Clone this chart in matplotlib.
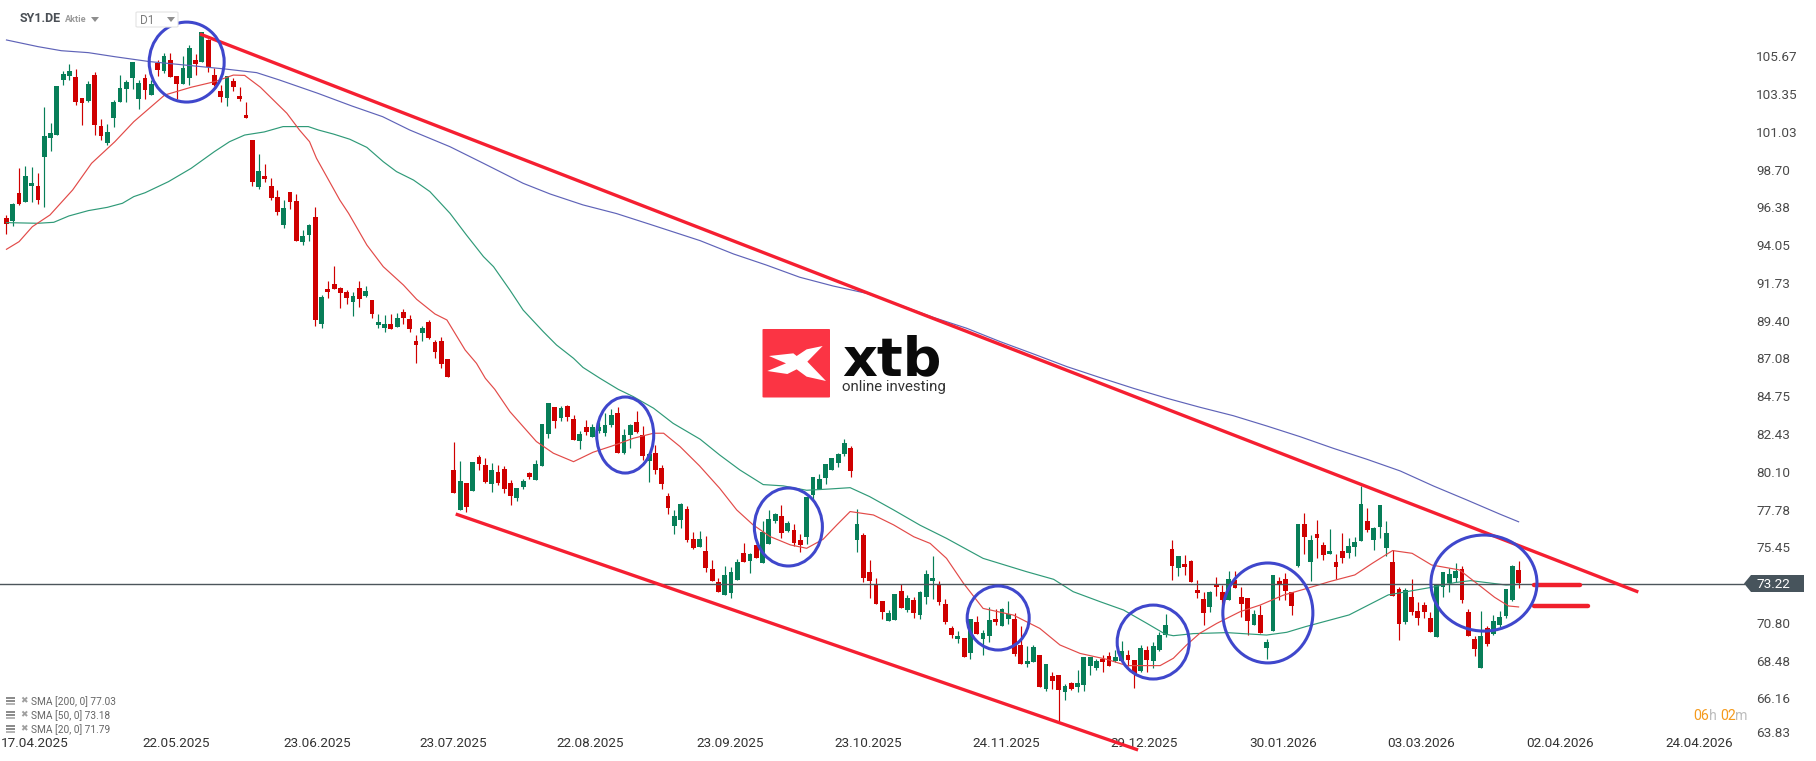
import matplotlib
matplotlib.use("Agg")
import matplotlib.pyplot as plt
from matplotlib.patches import Ellipse, Polygon, Rectangle, FancyBboxPatch
import numpy as np

plt.rcParams['font.family'] = ['Roboto', 'DejaVu Sans']

directions = ("rgrggrgggg" "grrgrrgggg" "ggrgrgrrgg" "rgrrrgrrrr" "grrrgrrggr" "grrrrgrgrg" "grgrrrgrrr"
              "rrgrgrrgrr" "rggrgggrgr" "rgrggggrgg" "rrgrrrggrr" "grrrgggrgr" "gggrgrrggg" "ggggrgrrrr"
              "ggrgrgggrr" "rgrgrggrgg" "rrggrgrrgr" "ggggrrggrr" "grgggrgrrr" "rgrrgrrrgr" "ggrrrgrgrr"
              "grrgggrggg" "rrgrrrrggg" "grrrgrggggr")

highs = [95.91,96.67,98.78,98.92,98.84,98.47,102.53,101.55,103.85,104.77,
 105.20,104.89,103.11,104.16,104.71,101.80,101.51,102.99,104.50,104.22,
 105.32,104.22,104.59,104.22,105.45,105.88,105.88,104.46,105.69,106.37,
 105.82,107.17,106.74,104.96,103.91,104.46,104.34,103.79,102.86,100.52,
 99.66,99.05,98.19,97.45,96.83,97.32,97.20,94.99,95.36,96.40,
 90.99,91.85,92.77,91.48,91.29,91.17,91.85,91.54,90.68,89.82,
 89.76,89.82,89.88,90.12,89.76,88.52,89.08,89.45,88.22,88.40,
 87.05,81.94,80.78,79.42,80.71,81.14,80.96,80.67,80.53,80.47,
 79.61,79.13,79.65,80.10,80.84,83.05,84.34,84.10,84.16,84.22,
 83.61,82.62,83.30,83.05,83.20,83.73,83.98,84.10,82.74,83.05,
 83.85,82.93,81.27,81.76,80.53,78.81,77.76,78.19,78.01,76.41,
 76.47,76.16,74.68,73.58,74.31,74.25,74.74,75.73,75.11,75.61,
 77.08,77.76,77.58,78.07,77.08,76.90,76.28,78.56,79.79,79.98,
 80.59,80.96,81.27,82.13,81.70,77.82,76.34,74.68,73.58,72.16,
 71.61,72.59,73.21,72.53,72.41,72.77,74.06,74.92,73.39,72.28,
 70.62,70.31,69.88,71.05,71.23,70.37,71.79,71.66,71.72,72.16,
 71.42,70.62,69.39,69.45,68.83,68.28,67.79,67.60,67.05,67.17,
 67.91,68.71,68.71,68.59,68.83,69.02,69.14,69.69,69.14,68.52,
 69.45,69.39,69.63,70.25,71.36,75.91,74.92,74.99,74.68,73.45,
 72.71,72.77,73.63,73.14,74.00,74.00,73.02,72.34,71.60,71.91,
 69.82,73.76,73.63,73.88,72.71,76.90,77.57,76.22,77.14,75.79,
 76.59,75.05,76.34,76.04,76.10,79.24,77.88,76.71,78.07,77.08,
 75.30,73.02,72.96,73.51,72.10,72.10,71.48,73.14,73.94,74.19,
 74.50,74.31,71.67,70.00,71.54,70.62,71.30,71.54,72.90,74.37,74.62]

body_tops = [95.72,96.59,97.26,98.31,97.88,97.69,100.77,100.96,103.85,104.59,
 104.77,104.40,103.11,103.97,104.52,101.39,101.02,102.86,103.72,104.09,
 105.32,104.03,104.34,103.97,105.26,105.69,105.45,104.46,104.96,106.19,
 105.45,107.17,106.68,104.52,103.54,104.46,104.16,103.23,102.06,100.52,
 98.62,98.31,97.69,97.02,96.34,97.32,96.77,94.62,95.29,95.79,
 90.86,91.36,91.66,91.42,91.17,90.92,91.42,91.23,90.68,89.32,
 89.20,89.20,89.57,89.94,89.51,88.16,88.96,89.32,88.09,88.16,
 87.05,80.22,79.54,79.42,80.71,81.02,80.53,80.22,80.10,80.28,
 79.42,79.11,79.54,80.04,80.59,83.05,84.34,84.10,84.04,84.16,
 83.36,82.44,82.87,82.87,82.87,82.99,83.61,83.73,82.38,82.99,
 83.18,82.38,81.21,81.27,80.34,78.62,77.39,78.13,77.82,75.98,
 75.98,75.24,74.13,73.33,73.76,73.94,74.56,75.11,75.05,75.61,
 76.41,77.21,77.51,77.39,76.96,76.53,75.91,78.56,79.79,79.67,
 80.59,80.96,81.21,81.88,81.58,76.90,76.22,73.94,73.21,72.16,
 71.42,72.59,72.78,72.34,72.22,72.71,73.82,73.57,73.20,71.97,
 70.49,70.00,69.88,71.05,70.86,70.19,70.99,71.05,71.66,71.36,
 71.05,69.45,68.46,69.32,68.83,68.28,67.54,67.60,66.92,67.11,
 67.11,68.71,68.71,68.46,68.59,68.77,68.71,69.08,68.83,68.52,
 69.26,69.14,69.39,70.06,70.68,75.36,74.92,74.43,74.62,72.83,
 72.28,72.71,73.20,72.71,73.51,73.45,72.40,72.34,71.36,71.29,
 69.63,73.76,73.39,73.51,72.71,76.90,76.90,75.91,76.28,75.60,
 75.24,74.56,75.24,75.54,75.79,78.13,77.08,76.65,78.07,76.34,
 74.56,72.90,72.84,72.40,71.54,71.91,71.11,73.14,73.94,73.82,
 74.00,74.13,71.48,69.82,70.00,70.50,70.93,71.17,72.90,74.31,74.07]

body_bottoms = [95.38,95.54,96.59,96.71,97.69,96.83,99.50,100.65,100.83,104.22,
 104.46,102.86,102.80,102.92,101.45,100.77,100.34,101.88,102.86,103.66,
 104.34,103.05,103.60,103.29,104.83,104.77,104.40,103.97,103.97,104.34,
 105.20,105.32,105.02,103.91,103.17,103.11,103.79,103.05,101.88,97.94,
 97.63,98.12,96.96,96.09,95.29,96.71,94.31,94.25,94.68,89.45,
 89.20,91.17,91.36,91.11,90.80,90.56,90.74,90.92,89.82,89.14,
 88.96,88.89,89.02,89.57,88.89,87.91,88.65,88.32,87.48,86.74,
 85.94,78.81,77.76,77.94,78.93,80.59,79.48,79.36,79.42,79.05,
 78.62,78.50,79.18,79.79,79.61,80.47,82.44,83.24,83.42,83.48,
 82.07,82.01,82.56,82.25,82.62,82.50,82.99,81.27,81.27,82.38,
 82.56,81.08,80.78,80.22,79.36,77.88,76.78,77.14,75.91,75.42,
 75.48,74.19,73.39,72.71,72.53,72.65,73.45,74.56,74.62,74.81,
 74.50,75.67,77.08,76.34,76.47,75.73,75.61,76.10,78.68,79.05,
 79.73,80.22,80.65,81.21,80.16,75.91,73.58,73.39,71.98,71.48,
 70.93,70.99,71.73,71.61,71.42,71.29,72.40,73.39,72.09,70.86,
 70.06,69.82,68.71,68.96,70.12,69.82,70.00,70.86,70.62,71.05,
 68.89,68.28,68.28,68.40,66.86,66.74,67.23,66.68,66.56,66.74,
 66.86,66.99,68.16,68.03,68.40,68.16,68.46,68.46,68.52,67.66,
 67.85,68.52,68.46,69.14,70.06,74.31,74.19,74.25,73.32,72.65,
 71.42,71.79,73.02,72.22,72.22,72.96,71.97,70.92,70.68,70.19,
 69.26,70.31,73.14,72.77,71.85,74.31,76.10,74.56,76.04,74.99,
 75.05,74.25,74.80,75.11,75.48,75.85,76.53,75.91,76.71,75.42,
 72.47,70.74,70.87,71.48,71.11,71.48,70.25,69.94,73.02,73.27,
 73.57,72.22,70.00,69.20,68.04,69.51,70.13,70.68,71.24,72.22,73.27]

lows = [94.74,95.23,96.52,96.71,96.71,96.59,96.42,99.85,100.83,103.91,
 104.22,102.68,101.45,102.86,100.83,100.52,100.22,101.30,102.86,102.86,
 103.66,102.43,103.05,103.29,104.46,104.65,104.40,103.03,103.97,103.91,
 104.52,105.32,104.71,103.85,102.86,102.62,103.54,102.92,101.88,97.69,
 97.51,97.94,96.83,95.91,95.11,96.28,94.31,94.06,94.31,89.08,
 88.96,90.80,91.36,90.19,90.43,89.69,90.25,90.86,89.57,88.96,
 88.71,88.89,89.02,89.20,88.71,86.80,88.16,88.26,87.11,86.49,
 85.94,78.81,77.76,77.64,78.93,80.22,79.42,78.87,79.30,78.81,
 78.07,78.31,79.05,79.67,79.61,80.47,82.19,82.81,83.24,83.24,
 82.07,81.51,82.38,82.25,82.48,82.31,82.87,81.27,81.21,81.58,
 82.50,80.84,79.48,79.98,79.05,77.51,76.28,76.65,75.79,75.36,
 75.48,73.94,73.39,72.71,72.53,72.34,73.45,74.56,73.88,74.81,
 74.50,75.67,76.96,76.04,76.41,75.54,75.18,75.67,78.38,79.05,
 79.36,80.22,80.41,81.08,79.79,75.18,73.33,72.34,71.98,71.05,
 70.93,70.99,71.73,71.48,71.11,71.05,71.97,72.28,71.91,70.74,
 69.88,69.57,68.71,68.59,70.12,68.83,69.63,70.68,70.62,70.74,
 68.77,68.28,68.09,68.40,66.86,66.62,66.74,64.77,66.06,66.68,
 66.56,66.62,67.60,67.91,67.79,68.16,68.40,68.46,68.16,66.80,
 67.79,67.79,68.03,69.08,69.94,73.45,73.69,73.76,73.32,72.34,
 70.68,71.48,72.46,71.91,72.22,72.96,71.17,70.06,70.68,70.19,
 68.59,70.31,72.22,72.22,71.29,74.25,75.05,73.39,74.80,74.68,
 75.05,73.51,74.50,74.80,74.93,75.85,76.40,75.30,76.04,74.93,
 72.47,69.76,70.74,71.30,70.68,71.11,70.25,69.94,72.40,72.71,
 73.33,72.04,70.00,68.77,68.04,69.39,70.07,70.56,71.11,72.16,72.96]

sma200_x = [0,5,8.7,13,17.2,22.7,29.3,34.8,39.7,43.3,49.4,54.8,59.7,64,70.4,75.7,82,86.3,91.5,96.8,102.1,
            110.1,115.4,120.6,125.9,131.2,136.5,141.8,147.1,152.4,157.7,163,168.3,173.6,178.9,184.2,189.4,194.7,200,205.3,210.6,215.9,221.2,226.5,231.8,237.1,240]
sma200_y = [106.68,106.27,106.02,105.90,105.65,105.35,105.10,104.89,104.67,104.22,103.40,102.62,101.96,101.14,100.11,99.09,97.86,97.20,96.53,96.00,95.34,
            94.33,93.51,92.83,92.08,91.54,91.09,90.37,89.61,88.94,88.12,87.36,86.58,85.90,85.24,84.63,84.08,83.56,82.93,82.27,81.55,80.88,80.16,79.23,78.37,77.49,77.03]

sma50_x = [0,5,7.5,9.9,13,16,18.4,20.2,22,25.7,29.3,33,35.4,37.8,40.9,43.9,47.9,49.5,51.9,54.5,57.2,59.8,61.9,64.6,67.2,70.4,73,75.7,77.3,79.9,82,85.2,87.3,90,91.5,94.2,97.1,
           99.5,102.7,105.8,110.1,113.2,116.4,120.1,123.3,127,130.7,133.9,137,140.8,145,149.2,155,161.9,166.2,169.3,173.6,177.3,181,183.9,185.2,188.4,193.7,200,203.2,206.2,213.1,219.3,226.2,229.9,232.4,234.9,238,240]
sma50_y = [95.44,95.40,95.46,95.85,96.18,96.38,96.63,97.04,97.28,97.96,98.78,99.81,100.42,100.83,101.02,101.35,101.35,101.14,100.89,100.57,100.07,99.19,98.58,98.06,97.35,96.01,94.68,93.35,92.73,91.29,90.06,88.73,87.91,87.09,86.53,85.86,85.18,
           84.73,84.02,83.09,82.11,81.14,80.22,79.32,79.24,78.97,79.05,79.13,78.58,77.76,76.82,76.01,74.78,73.96,73.49,72.73,72.11,71.60,70.78,70.12,70.02,70.15,70.21,70.06,70.23,70.58,71.30,72.53,73.00,73.29,73.41,73.29,73.14,73.18]

sma20_x = [0,2,4.1,6.9,10.5,13.5,17.2,20.2,25.1,29.3,33,36,37.8,40.3,44.5,46.5,48.1,49.2,52.9,54.3,57.2,59.8,63,65.1,68,69.9,72.8,74.6,76,77.5,79.9,84.1,86.8,90,93.1,96.3,99.5,102.7,104.3,106.9,110,113.2,115.9,118.5,121.2,124.4,127,129.6,131.8,133.9,137.6,140.8,144,146.6,149.2,151.9,155,159.8,164,167.2,170.4,174.6,177.8,183.1,185.2,187.3,189.4,192.1,195.8,199,202.7,206.4,210,214,216.8,220,223.1,226.2,230.6,233,236.2,238.4,240]
sma20_y = [93.80,94.27,95.19,95.91,97.45,99.09,100.42,101.65,103.29,103.77,104.11,104.52,104.50,103.77,102.17,101.14,100.42,99.40,96.83,96.01,94.06,92.73,91.60,90.72,89.82,89.45,87.60,86.78,85.86,85.18,83.81,81.97,81.25,80.73,81.31,81.72,82.17,82.48,82.48,81.66,80.47,79.09,77.76,76.84,76.12,75.61,75.40,75.95,76.84,77.66,77.45,76.84,76.11,75.70,74.78,73.24,71.70,71.29,70.47,69.45,68.93,68.57,68.18,68.18,68.63,69.45,70.17,70.78,71.50,71.91,72.52,72.93,73.35,73.76,74.48,75.26,75.09,74.37,74.07,73.35,72.38,71.85,71.79]

last_price = 73.22
resistance_x, resistance_y = [30.7, 259], [107.05, 72.71]
support_x, support_y = [71.3, 179.6], [77.51, 62.99]
level_x = [[242.5, 249.8], [242.5, 251]]
level_y = [73.12, 71.84]

circle_x = [28.6, 98.2, 124.1, 157.4, 182, 200.2, 234.5]
circle_y = [105.32, 82.37, 76.71, 71.11, 69.63, 71.42, 73.26]
circle_w = [11.9, 9.05, 10.8, 9.84, 11.43, 14.29, 16.83]
circle_h = [4.92, 4.68, 4.8, 3.94, 4.55, 6.15, 5.91]

price_ticks = [105.67,103.35,101.03,98.70,96.38,94.05,91.73,89.40,87.08,84.75,82.43,80.10,77.78,75.45,70.80,68.48,66.16,63.83]
date_labels = ["17.04.2025","22.05.2025","23.06.2025","23.07.2025","22.08.2025","23.09.2025","23.10.2025","24.11.2025","29.12.2025","30.01.2026","03.03.2026","02.04.2026","24.04.2026"]
date_ticks = [4.5,26.9,49.3,70.85,92.7,114.8,136.85,158.7,180.6,202.7,224.5,246.6,268.7]
legend_labels = ["SMA [200, 0] 77.03", "SMA [50, 0] 73.18", "SMA [20, 0] 71.79"]

W, H = 1816, 761
fig = plt.figure(figsize=(W/100, H/100), dpi=100, facecolor='white')
ax = fig.add_axes([0, 0, 1, 1])
ax.set_xlim(-1.03, 287.2)
ax.set_ylim(62.31, 109.14)
for s in ax.spines.values():
    s.set_visible(False)

def P(x, y):
    return (x / W, 1 - y / H)

# axes ticks (inside the frame, as on the platform)
ax.yaxis.tick_right()
ax.set_yticks([p if p > 64 else 64.11 for p in price_ticks])
ax.set_yticklabels([f"{p:.2f}" for p in price_ticks])
ax.tick_params(axis='y', length=0, pad=-43, labelsize=9.7, labelcolor='#4a4a4a')
ax.set_xticks(date_ticks)
ax.set_xticklabels(date_labels)
ax.tick_params(axis='x', length=0, pad=-17, labelsize=9.7, labelcolor='#333333')

# candles
x = np.arange(len(highs))
up = np.array([d == 'g' for d in directions])
hi, lo = np.array(highs), np.array(lows)
bt, bb = np.array(body_tops), np.array(body_bottoms)
RED, GREEN = '#cf0000', '#077e58'
colors = np.where(up, GREEN, RED)
ax.vlines(x, lo, hi, colors=colors, lw=0.85, zorder=3)
ax.bar(x, bt - bb, bottom=bb, width=0.76, color=colors, lw=0, zorder=3)

# SMA lines
ax.plot(sma200_x, sma200_y, color='#5f63b8', lw=0.85, zorder=4)
ax.plot(sma50_x, sma50_y, color='#2f9a78', lw=0.85, zorder=4)
ax.plot(sma20_x, sma20_y, color='#e24a48', lw=0.85, zorder=4)

# last price line
ax.plot([-1.03, 275.8], [last_price, last_price], color='#4c555b', lw=1.0, zorder=5)
fig.add_artist(Polygon([P(1744, 583.5), P(1751, 575), P(1804, 575), P(1804, 592), P(1751, 592)],
                       closed=True, transform=fig.transFigure, fc='#47545c', ec='none'))
fig.text(*P(1756, 584.5), f"{last_price:.2f}", color='white', fontsize=9.7, va='center', ha='left')

# drawings
ax.plot(resistance_x, resistance_y, color='#f51f31', lw=2.4, zorder=6, solid_capstyle='butt')
ax.plot(support_x, support_y, color='#f51f31', lw=2.4, zorder=6, solid_capstyle='butt')
for lx, ly in zip(level_x, level_y):
    ax.plot(lx, [ly, ly], color='#f0202c', lw=3.2, zorder=6, solid_capstyle='round')
for cx, cy, cw, ch in zip(circle_x, circle_y, circle_w, circle_h):
    ax.add_patch(Ellipse((cx, cy), cw, ch, fc='none', ec='#3f47cc', lw=2.2, zorder=7))

# header
fig.text(*P(20, 19), "SY1.DE", fontsize=9, fontweight='bold', color='#4a4f55', va='center', ha='left')
fig.text(*P(64.5, 20), "Aktie", fontsize=6.6, fontweight='bold', color='#9a9a9a', va='center', ha='left')
fig.add_artist(Polygon([P(91, 17), P(99, 17), P(95, 22)], transform=fig.transFigure, fc='#8e8e8e', ec='none'))
fig.add_artist(FancyBboxPatch(P(136, 27), 42/W, 15/H, boxstyle='round,pad=0,rounding_size=0.001',
                              transform=fig.transFigure, fc='white', ec='#e3e3e3', lw=0.8))
fig.text(*P(140, 20), "D1", fontsize=8.5, color='#7d7d7d', va='center', ha='left')
fig.add_artist(Polygon([P(167, 17), P(175, 17), P(171, 22)], transform=fig.transFigure, fc='#8e8e8e', ec='none'))

# legend
for lab, y in zip(legend_labels, [701.5, 715.5, 729.5]):
    for dy, c in ((-4, '#8c8c8c'), (-1, '#8c8c8c'), (2, '#b5b5b5')):
        fig.add_artist(Rectangle(P(6, y + dy + 1), 9/W, 2/H, transform=fig.transFigure, fc=c, ec='none'))
    fig.text(*P(23.5, y - 0.5), "\u2716", fontsize=6.5, color='#a0a0a0', va='center', ha='center', family=['DejaVu Sans'])
    fig.text(*P(31, y), lab, fontsize=7.3, color='#666666', va='center', ha='left')

# countdown
for tx, s, c in [(1693, "06", '#f59a1c'), (1708.5, "h", '#bdbdbd'), (1720, "02", '#f59a1c'), (1735.5, "m", '#bdbdbd')]:
    fig.text(*P(tx, 716), s, fontsize=10.2, color=c, va='center', ha='left')

# watermark logo
fig.add_artist(FancyBboxPatch(P(762.5, 397.5), 67.5/W, 68.5/H, boxstyle='round,pad=0,rounding_size=0.0008',
                              transform=fig.transFigure, fc='#fb3444', ec='none', zorder=8))
star = [(57,108),(130,100),(140,108),(170,88),(218,78),(172,125),(228,183),(170,170),(140,148),(112,162),(52,153),(108,130)]
fig.add_artist(Polygon([P(750 + a/3, 320 + b/3) for a, b in star], transform=fig.transFigure, fc='white', ec='none', zorder=9))
fig.text(*P(842, 375), "xtb", fontsize=39, fontweight='bold', color='#0a0a0a', va='baseline', ha='left', family=['DejaVu Sans'], zorder=9)
fig.text(*P(842.5, 391), "online investing", fontsize=10.8, color='#333333', va='baseline', ha='left', zorder=9)

fig.savefig("out.png", dpi=100, facecolor='white')
assert len(highs) == len(lows) == len(body_tops) == len(body_bottoms) == len(directions)
